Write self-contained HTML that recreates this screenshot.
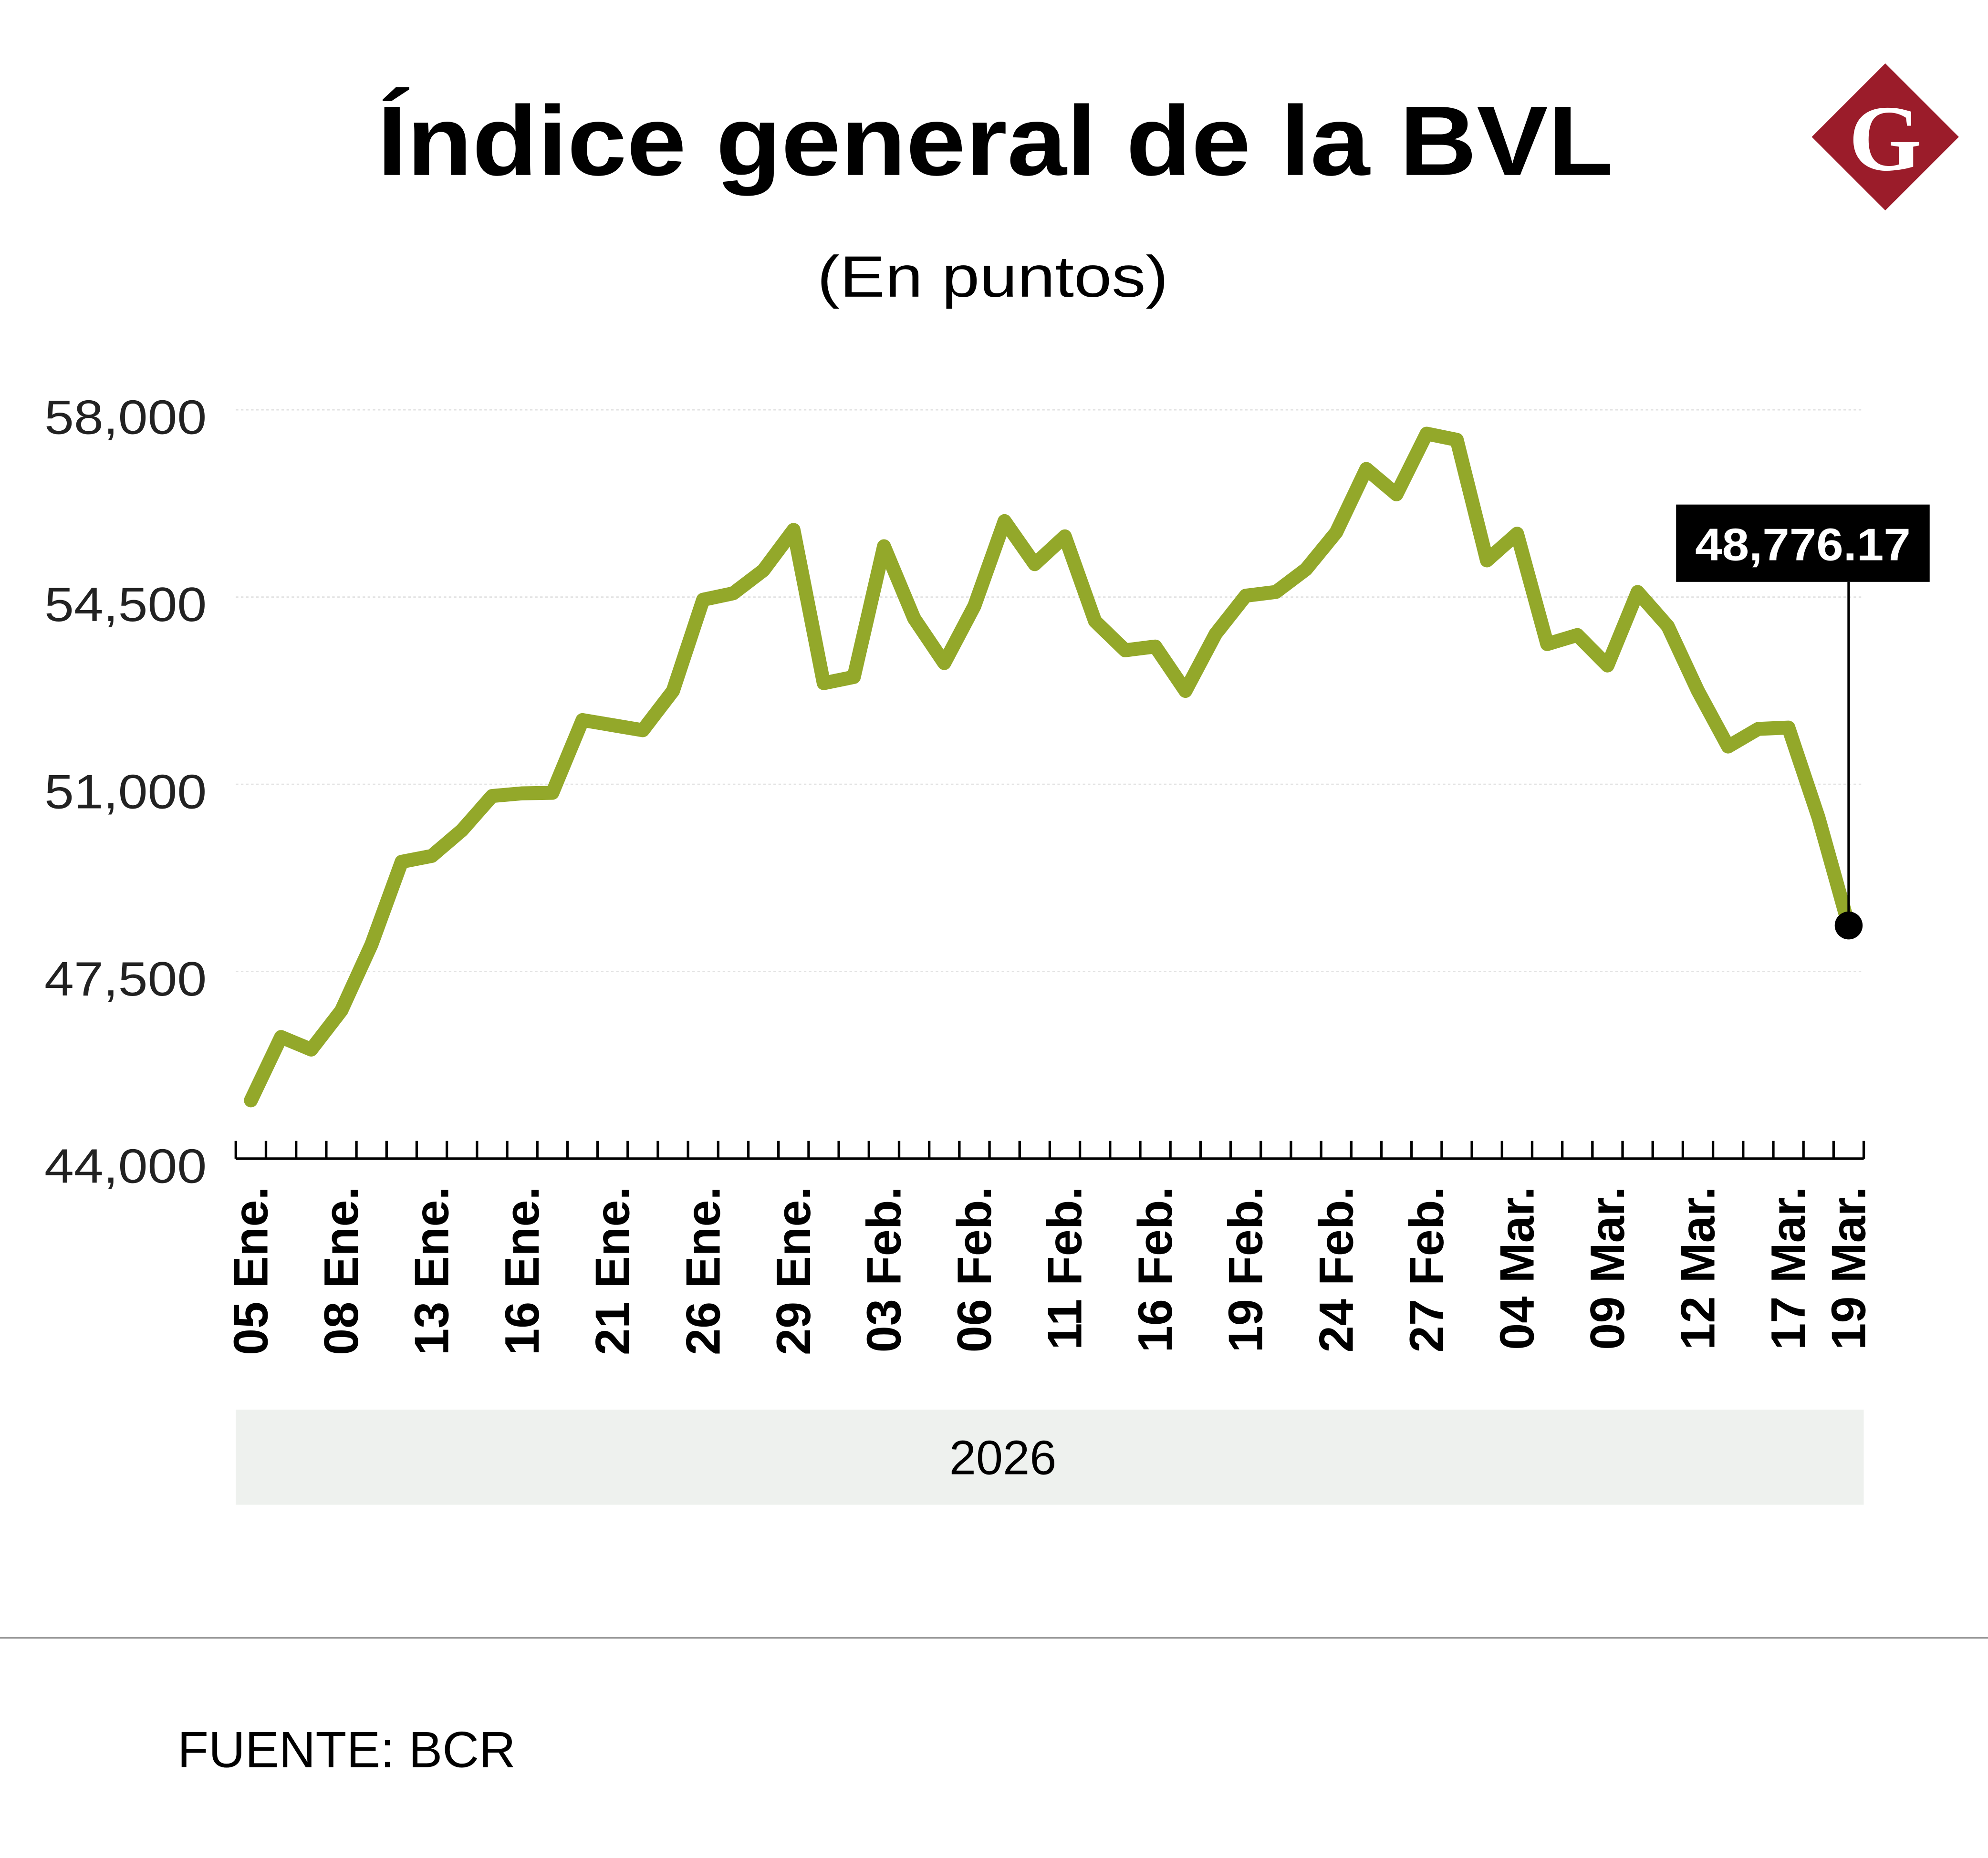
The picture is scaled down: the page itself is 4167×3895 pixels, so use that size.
<!DOCTYPE html>
<html><head><meta charset="utf-8"><style>
html,body{margin:0;padding:0;background:#fff;}
svg{display:block;}
</style></head><body>
<svg id="chart" width="4167" height="3895" viewBox="0 0 1568 1465.66" xmlns="http://www.w3.org/2000/svg" font-family="'Liberation Sans', sans-serif">
<rect width="1568" height="1466" fill="#fff"/>
<text x="785" y="138" text-anchor="middle" font-size="78" font-weight="bold" textLength="975" lengthAdjust="spacingAndGlyphs" fill="#000">Índice general de la BVL</text>
<text x="783" y="234" text-anchor="middle" font-size="46" textLength="277" lengthAdjust="spacingAndGlyphs" fill="#000">(En puntos)</text>
<g>
<polygon points="1487,50 1545,108 1487,166 1429,108" fill="#9b1c2a"/>
<text x="1487" y="134" text-anchor="middle" font-family="'Liberation Serif', serif" font-weight="bold" font-size="74" fill="#fff">G</text>
</g>
<g id="grid"></g>
<g id="ylabels"></g>
<g id="axis"></g>
<g id="xlabels"></g>
<path id="series" fill="none" stroke="#93a82a" stroke-width="11" stroke-linejoin="round" stroke-linecap="round"/>
<g id="annot"></g>
<rect x="186" y="1112" width="1284" height="75" fill="#eef1ee"/>
<text x="791" y="1163" text-anchor="middle" font-size="38" fill="#000">2026</text>
<line x1="0" y1="1292" x2="1568" y2="1292" stroke="#999" stroke-width="1.2"/>
<text x="140" y="1394" font-size="40" fill="#000">FUENTE: BCR</text>
</svg>
<script>
const values = [45090,46275,46040,46770,48005,49550,49660,50140,50780,50830,50840,52200,52105,52010,52745,54450,54570,55000,55755,52890,53005,55450,54100,53265,54335,55920,55115,55635,54050,53505,53575,52745,53810,54525,54595,55020,55710,56895,56420,57555,57440,55185,55685,53620,53790,53220,54595,53955,52745,51705,52035,52060,50375,48360];
const labelIndices = [0,3,6,9,12,15,18,21,24,27,30,33,36,39,42,45,48,51,53];
const labelTexts = ["05 Ene.","08 Ene.","13 Ene.","16 Ene.","21 Ene.","26 Ene.","29 Ene.","03 Feb.","06 Feb.","11 Feb.","16 Feb.","19 Feb.","24 Feb.","27 Feb.","04 Mar.","09 Mar.","12 Mar.","17 Mar.","19 Mar."];
const yTicks = [44000,47500,51000,54500,58000];
const yTickLabels = ["44,000","47,500","51,000","54,500","58,000"];
const lastLabel = "48,776.17";

const NS="http://www.w3.org/2000/svg";
const X0=186,X1=1470,Y0=914,Y1=323.3,VMIN=44000,VMAX=58000;
const band=(X1-X0)/values.length;
function x(i){return X0+band*(i+0.5);}
function y(v){return Y0-(v-VMIN)/(VMAX-VMIN)*(Y0-Y1);}
function mk(tag,attrs,parent){const e=document.createElementNS(NS,tag);for(const k in attrs)e.setAttribute(k,attrs[k]);parent.appendChild(e);return e;}

const grid=document.getElementById('grid'),yl=document.getElementById('ylabels');
yTicks.forEach((t,k)=>{
  if(t>VMIN){const g=mk('line',{x1:X0,x2:X1,y1:y(t),y2:y(t),stroke:'#e2e2e2','stroke-width':1,'stroke-dasharray':'2,2'},grid);
  
  }
  const tx=mk('text',{x:163,y:y(t)+19,'text-anchor':'end','font-size':38,fill:'#222',textLength:128,lengthAdjust:'spacingAndGlyphs'},yl);
  tx.textContent=yTickLabels[k];
  
  
});
const ax=document.getElementById('axis');
const al=mk('line',{x1:X0,x2:X1,y1:Y0,y2:Y0,stroke:'#000','stroke-width':2},ax);


for(let i=0;i<=values.length;i++){
  const tk=mk('line',{x1:X0+band*i,x2:X0+band*i,y1:Y0,y2:Y0-14,stroke:'#000','stroke-width':2},ax);
  
  
}
const xl=document.getElementById('xlabels');
labelIndices.forEach((idx,k)=>{
  const px=x(idx)+13;
  const t=mk('text',{x:px,y:936,transform:`rotate(-90 ${px} 936)`,'text-anchor':'end','font-size':38,'font-weight':'bold',fill:'#000'},xl);
  t.textContent=labelTexts[k];
  
  
});
document.getElementById('series').setAttribute('d',values.map((v,i)=>(i?'L':'M')+x(i).toFixed(2)+','+y(v).toFixed(2)).join(' '));
const an=document.getElementById('annot');
const li=values.length-1;
const ll=mk('line',{x1:x(li),x2:x(li),y1:459,y2:y(values[li]),stroke:'#000','stroke-width':2},an);


const dot=mk('circle',{cx:x(li),cy:y(values[li]),r:11,fill:'#000'},an);


const bx=mk('rect',{x:1322,y:398,width:200,height:61,fill:'#000'},an);


const bt=mk('text',{x:1422,y:442,'text-anchor':'middle','font-size':36,'font-weight':'bold',fill:'#fff',textLength:170,lengthAdjust:'spacingAndGlyphs'},an);
bt.textContent=lastLabel;


</script>
</body></html>
